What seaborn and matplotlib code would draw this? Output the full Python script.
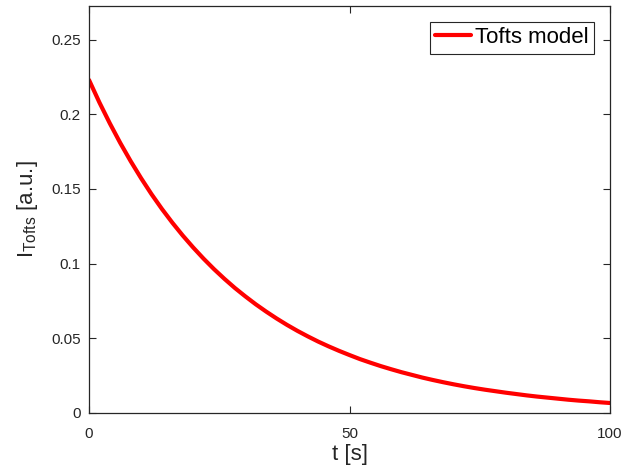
import matplotlib
matplotlib.use("Agg")
import matplotlib.pyplot as plt
import seaborn as sns
import pandas as pd

# Tofts model signal sampled every 2 s
t_s = [0, 2, 4, 6, 8, 10, 12, 14, 16, 18, 20, 22, 24, 26, 28, 30, 32, 34, 36, 38,
       40, 42, 44, 46, 48, 50, 52, 54, 56, 58, 60, 62, 64, 66, 68, 70, 72, 74, 76, 78,
       80, 82, 84, 86, 88, 90, 92, 94, 96, 98, 100]
i_tofts = [0.2230, 0.2079, 0.1939, 0.1808, 0.1686, 0.1572, 0.1465, 0.1366, 0.1274, 0.1188,
           0.1108, 0.1033, 0.0963, 0.0898, 0.0837, 0.0781, 0.0728, 0.0679, 0.0633, 0.0590,
           0.0550, 0.0513, 0.0478, 0.0446, 0.0416, 0.0388, 0.0361, 0.0337, 0.0314, 0.0293,
           0.0273, 0.0255, 0.0237, 0.0221, 0.0206, 0.0192, 0.0179, 0.0167, 0.0156, 0.0146,
           0.0136, 0.0127, 0.0118, 0.0110, 0.0103, 0.0096, 0.0089, 0.0083, 0.0078, 0.0072,
           0.0067]
series_name = "Tofts model"

x_ticks = [0, 50, 100]
y_ticks = [0, 0.05, 0.1, 0.15, 0.2, 0.25]
y_tick_labels = ["0", "0.05", "0.1", "0.15", "0.2", "0.25"]

sns.set_style("white")
plt.rcParams["font.family"] = ["Liberation Sans", "DejaVu Sans"]
plt.rcParams["mathtext.fontset"] = "custom"
plt.rcParams["mathtext.rm"] = "Liberation Sans"

df = pd.DataFrame({"t": t_s, "I": i_tofts, "model": series_name})

fig = plt.figure(figsize=(6.22, 4.74), dpi=100)
ax = fig.add_axes([89 / 622, 61 / 474, 521 / 622, 407 / 474])

sns.lineplot(data=df, x="t", y="I", hue="model", palette=["#ff0000"],
             linewidth=3, ax=ax)
for ln in ax.get_lines():
    ln.set_solid_joinstyle("round")

ax.set_xlim(0, 100)
ax.set_ylim(0, 0.2725)
ax.set_xticks(x_ticks)
ax.set_xticklabels([str(v) for v in x_ticks])
ax.set_yticks(y_ticks)
ax.set_yticklabels(y_tick_labels)

dark = "#262626"
for side in ["left", "right", "top", "bottom"]:
    ax.spines[side].set_visible(True)
    ax.spines[side].set_color(dark)
    ax.spines[side].set_linewidth(0.9)

ax.tick_params(axis="both", which="major", direction="in", length=5,
               width=0.8, color=dark, labelcolor=dark, labelsize=11,
               top=True, right=True, bottom=True, left=True, pad=6)
ax.tick_params(axis="x", pad=10)

ax.set_xlabel("t [s]", fontsize=16, color=dark, labelpad=2)
ax.set_ylabel(r"$\mathregular{I_{Tofts}}$ [a.u.]", fontsize=16, color=dark, labelpad=8)

leg = ax.legend(loc="upper right", fontsize=16, frameon=True, fancybox=False,
                handlelength=1.6, handletextpad=0.2, borderpad=0.25,
                borderaxespad=0.7)
leg.get_frame().set_edgecolor(dark)
leg.get_frame().set_linewidth(0.8)
leg.get_frame().set_alpha(1)
for txt in leg.get_texts():
    txt.set_color("black")

fig.savefig("out.png", dpi=100)
